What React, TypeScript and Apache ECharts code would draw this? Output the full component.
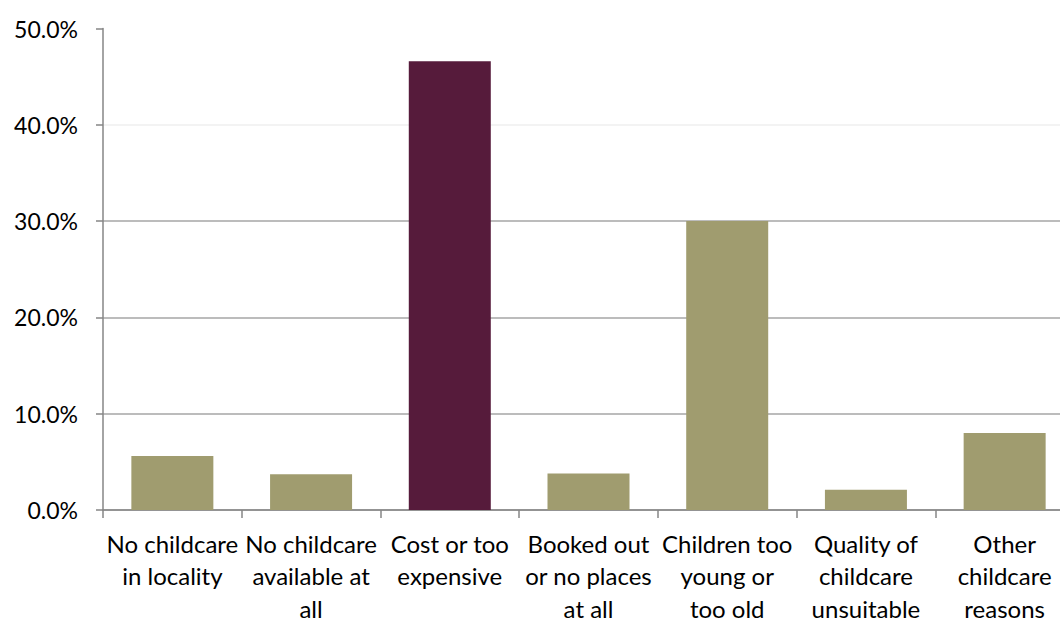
import React, { useEffect, useRef } from "react";
import * as echarts from "echarts";

const categories = [
  "No childcare\nin locality",
  "No childcare\navailable at\nall",
  "Cost or too\nexpensive",
  "Booked out\nor no places\nat all",
  "Children too\nyoung or\ntoo old",
  "Quality of\nchildcare\nunsuitable",
  "Other\nchildcare\nreasons",
];
const values = [5.6, 3.7, 46.6, 3.8, 30.0, 2.1, 8.0];
const highlightIndex = 2;
const yTicks = { min: 0, max: 50, interval: 10 };

const OLIVE = "#a09c6f";
const MAROON = "#561b3b";
const FONT = "Lato";

export default function App() {
  const ref = useRef<HTMLDivElement>(null);
  useEffect(() => {
    if (!ref.current) return;
    const chart = echarts.init(ref.current, null, { renderer: "svg" });
    chart.setOption({
      animation: false,
      backgroundColor: "#ffffff",
      grid: {
        left: 103,
        top: 28.5,
        bottom: 111,
        right: 1,
        containLabel: false,
        outerBoundsMode: "none",
      },
      xAxis: {
        type: "category",
        data: categories,
        axisLine: { lineStyle: { color: "#868686", width: 1.5 } },
        axisTick: { show: true, length: 8, lineStyle: { color: "#868686", width: 1.5 } },
        axisLabel: {
          color: "#000",
          fontFamily: FONT,
          fontSize: 24,
          lineHeight: 32.5,
          margin: 17,
          interval: 0,
        },
      },
      yAxis: {
        type: "value",
        min: yTicks.min,
        max: yTicks.max,
        interval: yTicks.interval,
        axisLine: { show: true, lineStyle: { color: "#868686", width: 1.5 } },
        axisTick: { show: true, length: 7, lineStyle: { color: "#868686", width: 1.5 } },
        axisLabel: {
          color: "#000",
          fontFamily: FONT,
          fontSize: 23,
          margin: 25,
          formatter: (v: number) => v.toFixed(1) + "%",
        },
        splitLine: {
          show: true,
          lineStyle: {
            color: ["#a6a6a6", "#a6a6a6", "#a6a6a6", "#a6a6a6", "#efefef", "#ffffff"],
            width: 1.5,
          },
        },
      },
      series: [
        {
          type: "bar",
          barWidth: 82,
          data: values.map((v, i) => ({
            value: v,
            itemStyle: { color: i === highlightIndex ? MAROON : OLIVE },
          })),
        },
      ],
    });
    return () => chart.dispose();
  }, []);
  return (
    <div
      ref={ref}
      style={{ position: "fixed", left: 0, top: 0, width: 1075, height: 621 }}
    />
  );
}
